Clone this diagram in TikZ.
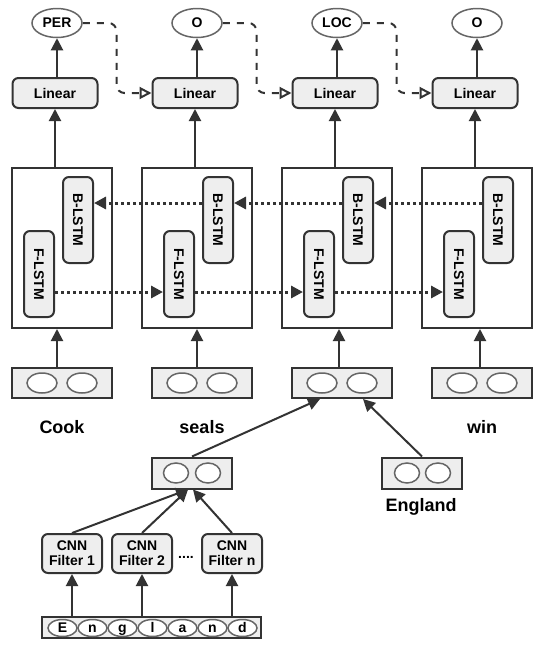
\documentclass[tikz,border=0pt]{standalone}
\usepackage{fontspec}
\setmainfont{Liberation Sans}
\usetikzlibrary{shapes.geometric,arrows.meta,positioning}

\definecolor{boxfill}{HTML}{EEEEEE}
\definecolor{boxline}{HTML}{333333}
\definecolor{ovalline}{HTML}{666666}

\begin{document}
\begin{tikzpicture}[x=1pt, y=-1pt,
    every node/.style={font=\fontsize{14}{15}\selectfont\bfseries},
    linbox/.style={rectangle, draw=boxline, line width=2pt, fill=boxfill, rounded corners=6pt, inner sep=0pt},
    lstmbox/.style={linbox, minimum width=30pt, minimum height=86pt},
    cellbox/.style={rectangle, draw=boxline, line width=2pt, fill=boxfill, inner sep=0pt},
    bigbox/.style={rectangle, draw=boxline, line width=2pt, minimum height=160pt},
    oval/.style={ellipse, draw=ovalline, line width=1.5pt, fill=white, inner sep=0pt, minimum width=30pt, minimum height=20pt},
    tagoval/.style={oval, minimum width=50pt, minimum height=29pt},
    charoval/.style={oval, minimum width=29pt, minimum height=17pt, text height=9pt, text depth=1pt},
    wordlabel/.style={font=\fontsize{18}{20}\selectfont\bfseries},
    flow/.style={-{Triangle[length=12pt,width=12pt]}, draw=boxline, line width=2pt},
    recur/.style={flow, line width=3pt, dash pattern=on 3pt off 3pt},
    seq/.style={-{Triangle[open,length=12pt,width=12pt]}, draw=boxline, line width=2pt, dash pattern=on 7pt off 7pt, rounded corners=8pt}]

    \useasboundingbox (0,0) rectangle (544,646);

    % Output tags
    \node[tagoval] (t1) at (57,23) {PER};
    \node[tagoval] (t2) at (197,23) {O};
    \node[tagoval] (t3) at (337,23) {LOC};
    \node[tagoval] (t4) at (477,23) {O};

    % Linear layers
    \node[linbox, minimum width=85pt, minimum height=30pt] (lin1) at (55,93) {Linear};
    \node[linbox, minimum width=85pt, minimum height=30pt] (lin2) at (195,93) {Linear};
    \node[linbox, minimum width=85pt, minimum height=30pt] (lin3) at (335,93) {Linear};
    \node[linbox, minimum width=85pt, minimum height=30pt] (lin4) at (475,93) {Linear};

    % BiLSTM cells
    \node[bigbox, minimum width=100pt] (bl1) at (62,248) {};
    \node[bigbox, minimum width=110pt] (bl2) at (197,248) {};
    \node[bigbox, minimum width=110pt] (bl3) at (337,248) {};
    \node[bigbox, minimum width=110pt] (bl4) at (477,248) {};

    \node[lstmbox] (b1) at (78,220) {\rotatebox{-90}{B-LSTM}};
    \node[lstmbox] (b2) at (218,220) {\rotatebox{-90}{B-LSTM}};
    \node[lstmbox] (b3) at (358,220) {\rotatebox{-90}{B-LSTM}};
    \node[lstmbox] (b4) at (498,220) {\rotatebox{-90}{B-LSTM}};
    \node[lstmbox] (f1) at (39,274) {\rotatebox{-90}{F-LSTM}};
    \node[lstmbox] (f2) at (179,274) {\rotatebox{-90}{F-LSTM}};
    \node[lstmbox] (f3) at (319,274) {\rotatebox{-90}{F-LSTM}};
    \node[lstmbox] (f4) at (459,274) {\rotatebox{-90}{F-LSTM}};

    % Word embeddings
    \node[cellbox, minimum width=100pt, minimum height=30pt] (w1) at (62,383) {};
    \node[cellbox, minimum width=100pt, minimum height=30pt] (w2) at (202,383) {};
    \node[cellbox, minimum width=100pt, minimum height=30pt] (w3) at (342,383) {};
    \node[cellbox, minimum width=100pt, minimum height=30pt] (w4) at (482,383) {};
    \node[oval] (w1a) at (42,383) {};  \node[oval] (w1b) at (82,383) {};
    \node[oval] (w2a) at (182,383) {}; \node[oval] (w2b) at (222,383) {};
    \node[oval] (w3a) at (322,383) {}; \node[oval] (w3b) at (362,383) {};
    \node[oval] (w4a) at (462,383) {}; \node[oval] (w4b) at (502,383) {};

    \node[wordlabel] (cook) at (62,427) {Cook};
    \node[wordlabel] (seals) at (202,427) {seals};
    \node[wordlabel] (win) at (482,427) {win};

    % Character level part
    \node[cellbox, minimum width=80pt, minimum height=31pt] (cw) at (192,473) {};
    \node[oval, minimum width=25pt] (cwa) at (176,473) {};
    \node[oval, minimum width=25pt] (cwb) at (208,473) {};
    \node[cellbox, minimum width=80pt, minimum height=31pt] (en) at (422,473) {};
    \node[oval, minimum width=25pt] (ena) at (407,473) {};
    \node[oval, minimum width=25pt] (enb) at (438,473) {};
    \node[wordlabel] (england) at (421,507) {England};

    \node[linbox, minimum width=60pt, minimum height=39pt, align=center] (c1) at (72,553.5) {CNN\\Filter 1};
    \node[linbox, minimum width=60pt, minimum height=39pt, align=center] (c2) at (142,553.5) {CNN\\Filter 2};
    \node[linbox, minimum width=60pt, minimum height=39pt, align=center] (cn) at (232,553.5) {CNN\\Filter n};
    \node[inner sep=0pt] (dots) at (186,557) {....};

    \node[cellbox, minimum width=219pt, minimum height=21pt] (chars) at (151.5,627.5) {};
    \node[charoval] (ch1) at (62.5,628) {E};
    \node[charoval] (ch2) at (92.5,628) {n};
    \node[charoval] (ch3) at (122.5,628) {g};
    \node[charoval] (ch4) at (152.5,628) {l};
    \node[charoval] (ch5) at (182.5,628) {a};
    \node[charoval] (ch6) at (212.5,628) {n};
    \node[charoval] (ch7) at (242.5,628) {d};

    % Connections
    \draw[flow] (t1.south |- lin1.north) -- (t1.south);
    \draw[flow] (t2.south |- lin2.north) -- (t2.south);
    \draw[flow] (t3.south |- lin3.north) -- (t3.south);
    \draw[flow] (t4.south |- lin4.north) -- (t4.south);

    \draw[seq] (t1.east) -| ([xshift=-35pt]lin2.west) -- (lin2.west);
    \draw[seq] (t2.east) -| ([xshift=-35pt]lin3.west) -- (lin3.west);
    \draw[seq] (t3.east) -| ([xshift=-35pt]lin4.west) -- (lin4.west);

    \draw[flow] (lin1.south |- bl1.north) -- (lin1.south);
    \draw[flow] (lin2.south |- bl2.north) -- (lin2.south);
    \draw[flow] (lin3.south |- bl3.north) -- (lin3.south);
    \draw[flow] (lin4.south |- bl4.north) -- (lin4.south);

    \draw[recur] ([yshift=17pt]b2.west) -- ([yshift=17pt]b1.east);
    \draw[recur] ([yshift=17pt]b3.west) -- ([yshift=17pt]b2.east);
    \draw[recur] ([yshift=17pt]b4.west) -- ([yshift=17pt]b3.east);
    \draw[recur] ([yshift=-18pt]f1.east) -- ([yshift=-18pt]f2.west);
    \draw[recur] ([yshift=-18pt]f2.east) -- ([yshift=-18pt]f3.west);
    \draw[recur] ([yshift=-18pt]f3.east) -- ([yshift=-18pt]f4.west);

    \draw[flow] ([xshift=-5pt]w1.north) -- ([xshift=-5pt]w1.north |- bl1.south);
    \draw[flow] ([xshift=-5pt]w2.north) -- ([xshift=-5pt]w2.north |- bl2.south);
    \draw[flow] ([xshift=-3pt]w3.north) -- ([xshift=-3pt]w3.north |- bl3.south);
    \draw[flow] ([xshift=-2pt]w4.north) -- ([xshift=-2pt]w4.north |- bl4.south);

    \draw[flow] (cw.north) -- ([xshift=-22pt]w3.south);
    \draw[flow] (en.north) -- ([xshift=21pt]w3.south);

    \draw[flow] (c1.north) -- ([xshift=-4pt]cw.south);
    \draw[flow] (c2.north) -- ([xshift=-4pt]cw.south);
    \draw[flow] (cn.north) -- ([xshift=1pt]cw.south);

    \draw[flow] (c1.south |- chars.north) -- (c1.south);
    \draw[flow] (c2.south |- chars.north) -- (c2.south);
    \draw[flow] (cn.south |- chars.north) -- (cn.south);
\end{tikzpicture}
\end{document}
